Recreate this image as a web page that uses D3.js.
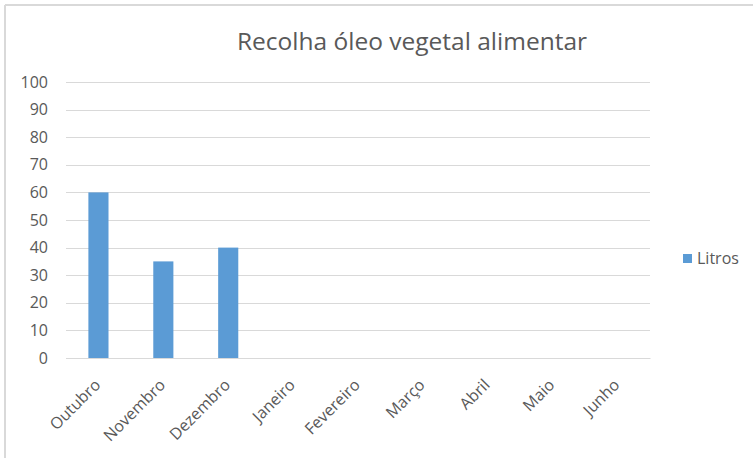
<!DOCTYPE html>
<html>
<head>
<meta charset="utf-8">
<script src="https://cdn.jsdelivr.net/npm/d3@7"></script>
<style>
  body { margin: 0; background: #fff; }
  svg text { font-family: "Open Sans", "Noto Sans", sans-serif; fill: #595959; }
</style>
</head>
<body>
<div id="chart"></div>
<script>
var months = ["Outubro", "Novembro", "Dezembro", "Janeiro", "Fevereiro", "Março", "Abril", "Maio", "Junho"];
var litros = [60, 35, 40, 0, 0, 0, 0, 0, 0];
var yTicks = [0, 10, 20, 30, 40, 50, 60, 70, 80, 90, 100];
var seriesName = "Litros";
var chartTitle = "Recolha óleo vegetal alimentar";

var W = 753, H = 458;
var margin = { top: 82, right: 103, bottom: 100, left: 66 };
var width = W - margin.left - margin.right,
  height = H - margin.top - margin.bottom;

var svg = d3.select("#chart").append("svg")
  .attr("width", W)
  .attr("height", H);

// outer frame (only top and left edges visible)
svg.append("line").attr("x1", 5).attr("x2", W).attr("y1", 5).attr("y2", 5)
  .attr("stroke", "#d9d9d9").attr("stroke-width", 2);
svg.append("line").attr("x1", 5).attr("x2", 5).attr("y1", 5).attr("y2", H)
  .attr("stroke", "#d9d9d9").attr("stroke-width", 2);

svg.append("text")
  .attr("x", 412)
  .attr("y", 50)
  .attr("text-anchor", "middle")
  .style("font-size", "24.5px")
  .text(chartTitle);

var g = svg.append("g")
  .attr("transform", "translate(" + margin.left + "," + margin.top + ")");

var x = d3.scaleBand().domain(months).range([0, width]).paddingInner(0.69).paddingOuter(0.345);
var y = d3.scaleLinear().domain([0, 100]).range([height, 0]);

// gridlines
g.append("g")
  .selectAll("line")
  .data(yTicks)
  .join("line")
  .attr("x1", 0).attr("x2", width)
  .attr("y1", function(d) { return Math.round(y(d)) + 0.5; })
  .attr("y2", function(d) { return Math.round(y(d)) + 0.5; })
  .attr("stroke", "#d9d9d9");

// y axis labels
var yAxis = g.append("g")
  .call(d3.axisLeft(y).tickValues(yTicks).tickSize(0).tickPadding(18));
yAxis.select(".domain").remove();
yAxis.selectAll("text").style("font-size", "16px").attr("fill", "#595959");

// bars
g.append("g")
  .selectAll("rect")
  .data(months.map(function(m, i) { return { m: m, v: litros[i] }; }))
  .join("rect")
  .attr("x", function(d) { return x(d.m); })
  .attr("width", x.bandwidth())
  .attr("y", function(d) { return y(d.v); })
  .attr("height", function(d) { return height - y(d.v); })
  .attr("fill", "#5b9bd5");

// x axis
var xAxis = g.append("g")
  .attr("transform", "translate(0," + height + ")")
  .call(d3.axisBottom(x).tickSize(0).tickPadding(0));
xAxis.select(".domain").attr("stroke", "#d9d9d9");
xAxis.selectAll("text")
  .style("font-size", "16px")
  .attr("fill", "#595959")
  .attr("text-anchor", "end")
  .attr("dy", null)
  .attr("transform", "translate(3,28) rotate(-45)");

// legend
var legend = svg.append("g").attr("transform", "translate(683,254)");
legend.append("rect").attr("width", 9).attr("height", 9).attr("fill", "#5b9bd5");
legend.append("text").attr("x", 14).attr("y", 10).style("font-size", "16px").text(seriesName);
</script>
</body>
</html>
